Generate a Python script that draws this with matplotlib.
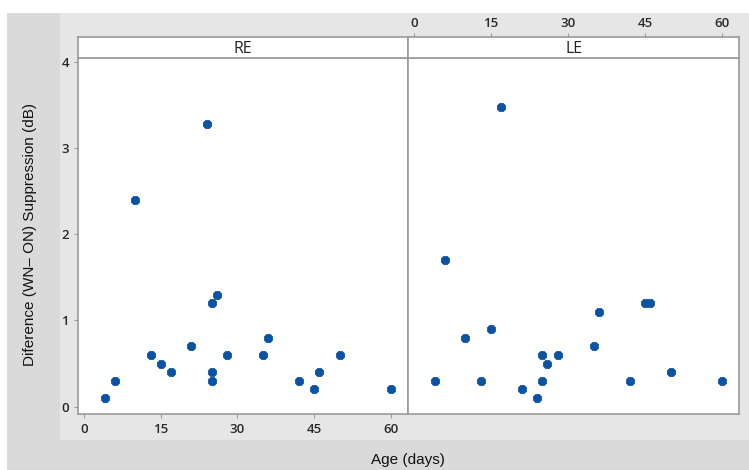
import matplotlib
matplotlib.use("Agg")
import matplotlib.pyplot as plt
from matplotlib.patches import Rectangle

re_age = [4, 6, 10, 13, 15, 17, 21, 24, 25, 25, 25, 26, 28, 35, 36, 42, 45, 46, 50, 60]
re_val = [0.1, 0.3, 2.4, 0.6, 0.5, 0.4, 0.7, 3.28, 1.2, 0.4, 0.3, 1.3, 0.6, 0.6, 0.8, 0.3, 0.2, 0.4, 0.6, 0.2]
le_age = [4, 6, 10, 13, 15, 17, 21, 24, 25, 25, 26, 28, 35, 36, 42, 45, 46, 50, 60]
le_val = [0.3, 1.7, 0.8, 0.3, 0.9, 3.48, 0.2, 0.1, 0.6, 0.3, 0.5, 0.6, 0.7, 1.1, 0.3, 1.2, 1.2, 0.4, 0.3]
panels = ["RE", "LE"]
xticks = [0, 15, 30, 45, 60]
yticks = [0, 1, 2, 3, 4]

W, H = 749, 470
fig = plt.figure(figsize=(W / 100, H / 100), dpi=100)
plt.rcParams['font.family'] = ['Liberation Sans', 'DejaVu Sans']

def fx(px):
    return px / W

def fy(py):
    return 1 - py / H

# backgrounds
fig.patches.append(Rectangle((fx(7), 0), 1 - fx(7), fy(13), transform=fig.transFigure,
                             facecolor="#dadada", edgecolor="none", zorder=-10))
fig.patches.append(Rectangle((fx(60), fy(440)), 1 - fx(60), fy(13) - fy(440), transform=fig.transFigure,
                             facecolor="#e6e6e6", edgecolor="none", zorder=-9))

spine_c = "#9a9a9a"
tick_c = "#2a2a2a"
mcol = "#0a52a3"
tick_font = ["Open Sans", "DejaVu Sans"]

left_edges = [78, 408]
right_edges = [408, 739.3]
data = [(re_age, re_val), (le_age, le_val)]
top_d, bot_d, top_s = 58, 414, 37

def style_labels(labels):
    for t in labels:
        t.set_family(tick_font)
        t.set_fontweight("semibold")

for i, name in enumerate(panels):
    l, r = left_edges[i], right_edges[i]
    ax = fig.add_axes([fx(l), fy(bot_d), fx(r) - fx(l), fy(top_d) - fy(bot_d)])
    ax.set_facecolor("white")
    ages, vals = data[i]
    ax.scatter(ages, vals, s=42, marker="8", color=mcol, edgecolors=mcol, linewidths=0.5, zorder=3)
    ax.set_xlim(-1.2, 63.4)
    ax.set_ylim(-0.085, 4.045)
    for sp in ax.spines.values():
        sp.set_color(spine_c)
        sp.set_linewidth(1.2)
    ax.set_xticks(xticks)
    ax.set_yticks(yticks)
    ax.tick_params(colors=spine_c, labelcolor=tick_c, length=3, width=0.8, labelsize=9.5)
    if i == 0:
        ax.tick_params(axis="x", bottom=True, labelbottom=True, top=False, labeltop=False)
        ax.tick_params(axis="y", left=True, labelleft=True, right=False)
    else:
        ax.tick_params(axis="x", bottom=False, labelbottom=False, top=False, labeltop=False)
        ax.tick_params(axis="y", left=False, labelleft=False)
    ax.set_xticklabels([str(t) for t in xticks])
    ax.set_yticklabels([str(t) for t in yticks])
    style_labels(ax.get_xticklabels())
    style_labels(ax.get_yticklabels())

    sax = fig.add_axes([fx(l), fy(top_d), fx(r) - fx(l), fy(top_s) - fy(top_d)])
    sax.set_facecolor("white")
    sax.set_xlim(-1.2, 63.4)
    sax.set_yticks([])
    for sp in sax.spines.values():
        sp.set_color(spine_c)
        sp.set_linewidth(1.2)
    if i == 1:
        sax.set_xticks(xticks)
        sax.tick_params(axis="x", top=True, labeltop=True, bottom=False, labelbottom=False,
                        colors=spine_c, labelcolor=tick_c, length=3, width=0.8, labelsize=9.5, pad=2)
        sax.set_xticklabels([str(t) for t in xticks])
        style_labels(sax.get_xticklabels())
    else:
        sax.set_xticks([])
    sax.text(0.5, 0.45, name, transform=sax.transAxes, ha="center", va="center",
             fontsize=11.5, color="#222222", family=["Open Sans", "DejaVu Sans"])

fig.text(fx(30), fy(235), "Diference (WN\u2013 ON) Suppression (dB)", rotation=90,
         ha="center", va="center", fontsize=11, color="#111111")
fig.text(fx(408), fy(460), "Age (days)", ha="center", va="center", fontsize=11, color="#111111")

fig.savefig("out.png", dpi=100)
